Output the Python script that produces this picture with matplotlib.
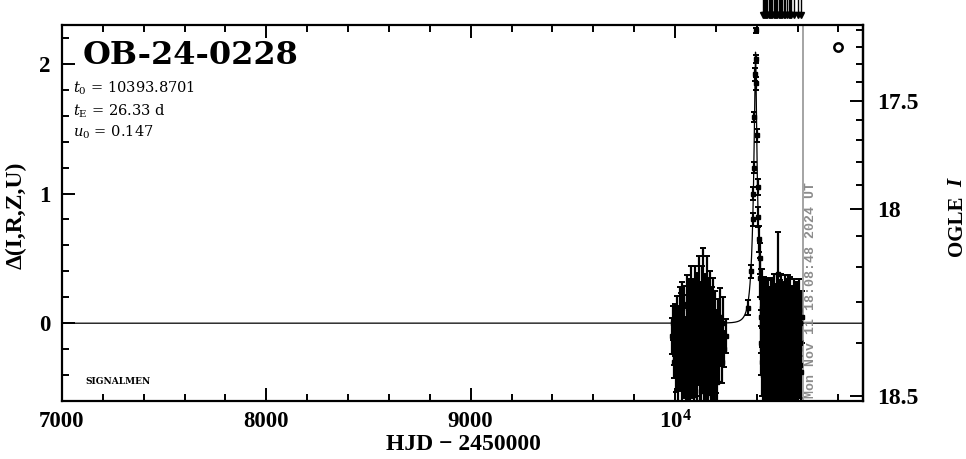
import numpy as np
import matplotlib.pyplot as plt
from matplotlib.ticker import MultipleLocator, FixedLocator, FuncFormatter

plt.rcParams['font.family'] = ['Liberation Serif', 'DejaVu Serif']
plt.rcParams['mathtext.fontset'] = 'custom'
plt.rcParams['mathtext.rm'] = 'DejaVu Serif'
plt.rcParams['mathtext.it'] = 'DejaVu Serif:italic'
plt.rcParams['mathtext.bf'] = 'Liberation Serif:bold'

# model parameters (as printed on the chart)
t0, tE, u0 = 10393.8701, 26.33, 0.147
# Delta <-> OGLE I mapping
alpha, beta = 4.47, -2.225

# 2023 season
s1_t = [9986, 9990, 9993, 9997, 10001, 10004, 10008, 10011, 10015, 10018,
        10022, 10025, 10029, 10032, 10036, 10039, 10043, 10046, 10050, 10053,
        10057, 10060, 10064, 10067, 10071, 10074, 10078, 10081, 10085, 10088,
        10092, 10095, 10099, 10102, 10106, 10109, 10113, 10116, 10120, 10123,
        10127, 10130, 10134, 10137, 10141, 10144, 10148, 10151, 10155, 10158,
        10162, 10165, 10169, 10172, 10176, 10179, 10183, 10186, 10190, 10193,
        10197, 10200, 10204, 10207, 10211, 10214, 10219, 10224, 10230, 10236,
        10242, 10248]
s1_d = [-0.10, 0.00, -0.22, -0.30, -0.05, -0.35, 0.05, -0.20, -0.42, -0.12,
        0.10, -0.28, -0.05, -0.45, 0.12, -0.18, -0.33, 0.02, -0.25, -0.50,
        0.15, -0.08, -0.38, 0.08, -0.22, -0.47, 0.20, -0.14, -0.30, 0.04,
        -0.55, -0.10, 0.18, -0.26, -0.40, 0.06, -0.18, 0.25, -0.35, -0.02,
        -0.52, 0.14, -0.20, 0.30, -0.08, -0.42, 0.10, -0.28, 0.22, -0.15,
        -0.48, 0.05, -0.25, 0.12, -0.36, -0.02, -0.55, 0.08, -0.20, -0.40,
        0.00, -0.30, -0.12, -0.45, -0.05, -0.25, 0.05, -0.15, -0.30, 0.00,
        -0.20, -0.10]
s1_e = [0.14, 0.13, 0.10, 0.12, 0.20, 0.18, 0.16, 0.22, 0.20, 0.25,
        0.18, 0.24, 0.28, 0.22, 0.20, 0.30, 0.25, 0.27, 0.30, 0.24,
        0.22, 0.30, 0.28, 0.26, 0.32, 0.26, 0.24, 0.30, 0.28, 0.30,
        0.25, 0.32, 0.26, 0.30, 0.28, 0.33, 0.30, 0.27, 0.30, 0.34,
        0.26, 0.30, 0.32, 0.28, 0.34, 0.30, 0.28, 0.33, 0.30, 0.32,
        0.28, 0.30, 0.30, 0.28, 0.26, 0.30, 0.24, 0.27, 0.28, 0.22,
        0.25, 0.24, 0.22, 0.20, 0.24, 0.20, 0.22, 0.18, 0.16, 0.20,
        0.14, 0.13]

# rise, peak and early decline 2024
pk_t = [10358, 10371, 10380, 10384, 10386, 10389, 10392, 10394, 10396,
        10398, 10401, 10404, 10407, 10410, 10414, 10418]
pk_d = [0.12, 0.40, 0.80, 1.00, 1.20, 1.59, 1.92, 2.04, 2.26,
        1.85, 1.45, 1.05, 0.82, 0.65, 0.50, 0.35]
pk_e = [0.06, 0.05, 0.05, 0.05, 0.04, 0.04, 0.05, 0.03, 0.02,
        0.05, 0.05, 0.06, 0.08, 0.10, 0.12, 0.15]

# rest of 2024 season
s2_t = [10420, 10421, 10423, 10426, 10427, 10429, 10432, 10434, 10435, 10437,
        10440, 10442, 10443, 10446, 10448, 10449, 10452, 10454, 10456, 10457,
        10460, 10462, 10463, 10466, 10468, 10470, 10471, 10474, 10476, 10477,
        10480, 10482, 10484, 10485, 10488, 10490, 10491, 10494, 10496, 10498,
        10499, 10502, 10504, 10506, 10507, 10510, 10512, 10514, 10515, 10518,
        10520, 10521, 10524, 10526, 10528, 10529, 10532, 10534, 10536, 10537,
        10540, 10542, 10543, 10546, 10548, 10550, 10551, 10554, 10556, 10558,
        10559, 10562, 10564, 10566, 10567, 10570, 10572, 10574, 10575, 10578,
        10580, 10582, 10583, 10586, 10588, 10590, 10591, 10594, 10596, 10598,
        10599, 10602, 10604, 10606, 10607, 10610, 10612, 10614, 10617, 10620]
s2_d = [0.20, -0.15, 0.05, -0.30, 0.12, -0.08, -0.40, 0.00, -0.22, 0.10,
        -0.35, -0.05, -0.50, 0.08, -0.18, -0.32, 0.02, -0.45, -0.12, 0.06,
        -0.28, -0.55, -0.02, -0.20, 0.10, -0.38, -0.10, -0.48, 0.04, -0.25,
        -0.05, -0.42, 0.12, -0.16, -0.33, 0.00, -0.52, -0.08, -0.26, 0.08,
        -0.40, -0.14, 0.38, -0.30, -0.02, -0.46, 0.06, -0.22, -0.58, -0.10,
        0.10, -0.35, -0.04, -0.50, 0.02, -0.24, -0.12, -0.44, 0.08, -0.18,
        -0.36, -0.06, -0.54, 0.04, -0.28, -0.10, -0.42, 0.10, -0.20, -0.48,
        -0.02, -0.30, 0.06, -0.38, -0.14, -0.56, 0.00, -0.24, -0.08, -0.44,
        0.08, -0.18, -0.34, -0.04, -0.50, 0.04, -0.22, -0.12, -0.40, 0.06,
        -0.28, -0.06, -0.46, 0.10, -0.20, -0.32, 0.00, -0.15, -0.38, 0.05]
s2_e = [0.22, 0.25, 0.28, 0.26, 0.30, 0.28, 0.25, 0.30, 0.32, 0.26,
        0.28, 0.30, 0.25, 0.27, 0.30, 0.28, 0.26, 0.30, 0.32, 0.28,
        0.30, 0.26, 0.30, 0.28, 0.25, 0.30, 0.33, 0.27, 0.29, 0.31,
        0.28, 0.30, 0.26, 0.32, 0.29, 0.30, 0.26, 0.31, 0.28, 0.30,
        0.29, 0.33, 0.32, 0.30, 0.28, 0.30, 0.27, 0.31, 0.26, 0.30,
        0.28, 0.30, 0.32, 0.28, 0.30, 0.29, 0.33, 0.27, 0.29, 0.31,
        0.30, 0.28, 0.26, 0.30, 0.30, 0.32, 0.28, 0.27, 0.31, 0.29,
        0.30, 0.28, 0.30, 0.32, 0.27, 0.25, 0.29, 0.30, 0.28, 0.30,
        0.26, 0.31, 0.29, 0.30, 0.27, 0.28, 0.30, 0.32, 0.28, 0.26,
        0.30, 0.28, 0.27, 0.24, 0.28, 0.26, 0.25, 0.22, 0.24, 0.20]

# markers drawn above the frame
arrow_t = [10430, 10436, 10441, 10447, 10452, 10458, 10463, 10470, 10476,
           10482, 10488, 10495, 10500, 10507, 10512, 10520, 10526, 10533,
           10540, 10548, 10556, 10563, 10570, 10584, 10600, 10617]

now_hjd = 10626.26
now_label = 'Mon Nov 11 18:08:48 2024 UT'

mag_major = [17.5, 18, 18.5]
mag_minor = [17.1, 17.2, 17.3, 17.4, 17.6, 17.7, 17.8, 17.9,
             18.1, 18.2, 18.3, 18.4]


def delta_model(t):
    u = np.sqrt(u0**2 + ((t - t0) / tE)**2)
    A = (u**2 + 2) / (u * np.sqrt(u**2 + 4))
    return 2.5 * np.log10(A)


def d2m(d):
    f = (10**(0.4 * np.asarray(d, float)) - beta) / alpha
    return 18 - 2.5 * np.log10(np.clip(f, 1e-6, None))


def m2d(m):
    x = alpha * 10**(-0.4 * (np.asarray(m, float) - 18)) + beta
    return 2.5 * np.log10(np.clip(x, 1e-6, None))


fig = plt.figure(figsize=(9.66, 4.59), dpi=100)
ax = fig.add_axes([62/966, 1 - 401/459, 801/966, 376/459])

tt = np.linspace(7000, 10920, 40000)
ax.plot(tt, delta_model(tt), color='k', lw=0.9, zorder=3)

for t, d, e in [(s1_t, s1_d, s1_e), (pk_t, pk_d, pk_e), (s2_t, s2_d, s2_e)]:
    ax.errorbar(t, d, yerr=e, fmt='s', ms=2.5, color='k', ecolor='k',
                elinewidth=1.6, capsize=2, capthick=1.4)

ax.axvline(now_hjd, color='#8c8c8c', lw=1.1)
trans = ax.get_xaxis_transform()
ax.text(now_hjd + 37, 0.008, now_label, transform=trans, rotation=90,
        ha='center', va='bottom', family='Liberation Mono', weight='bold',
        fontsize=9.5, color='#8c8c8c')

ax.vlines(arrow_t, 1 + 11/376, 1 + 26/376, transform=trans, color='k',
          lw=1.0, clip_on=False)
ax.plot(arrow_t, [1 + 9.5/376] * len(arrow_t), 'v', ms=4, color='k',
        transform=trans, clip_on=False)

ax.plot([0.9688], [0.9415], 'o', ms=6, mfc='white', mec='k', mew=1.8,
        transform=ax.transAxes)

ax.set_xlim(7000, 10920)
ax.set_ylim(-0.6, 2.3)
ax.xaxis.set_major_locator(MultipleLocator(1000))
ax.xaxis.set_minor_locator(MultipleLocator(200))
ax.yaxis.set_major_locator(MultipleLocator(1))
ax.yaxis.set_minor_locator(MultipleLocator(0.2))
ax.xaxis.set_major_formatter(FuncFormatter(
    lambda v, p: r'$\mathbf{10^4}$' if abs(v - 10000) < 1 else f'{v:.0f}'))
ax.tick_params(which='both', direction='in', top=True, right=False,
               width=1.4, labelsize=16.5)
ax.tick_params(which='major', length=9.4)
ax.tick_params(which='minor', length=5)
ax.tick_params(axis='x', pad=7)
ax.tick_params(axis='y', pad=8)
for lab in ax.get_xticklabels() + ax.get_yticklabels():
    lab.set_fontweight('bold')
for sp in ax.spines.values():
    sp.set_linewidth(1.6)

sec = ax.secondary_yaxis('right', functions=(d2m, m2d))
sec.set_yticks(mag_major)
sec.set_yticklabels(['17.5', '18', '18.5'], fontweight='bold', fontsize=17)
sec.yaxis.set_minor_locator(FixedLocator(mag_minor))
sec.tick_params(which='both', direction='in', width=1.4, pad=10)
sec.tick_params(which='major', length=9.4)
sec.tick_params(which='minor', length=5)
sec.spines['right'].set_linewidth(1.6)

fig.text(83/966, 1 - 56/459, 'OB-24-0228', family='DejaVu Serif',
         weight='bold', fontsize=23, va='center')
fig.text(73/966, 1 - 88/459, r'$t_0$ = 10393.8701', family='DejaVu Serif',
         fontsize=10.5, va='center')
fig.text(73/966, 1 - 111/459, r'$t_{\rm E}$ = 26.33 d', family='DejaVu Serif',
         fontsize=10.5, va='center')
fig.text(73/966, 1 - 132/459, r'$u_0$ = 0.147', family='DejaVu Serif',
         fontsize=10.5, va='center')
fig.text(85/966, 1 - 381/459, 'SIGNALMEN', family='DejaVu Serif',
         weight='bold', fontsize=6.5, va='center')

fig.text(463/966, 1 - 445/459, 'HJD \u2212 2450000', ha='center',
         va='center', fontsize=17, weight='bold')
fig.text(16/966, 1 - 215/459, '\u0394(I,R,Z,U)', rotation=90, ha='center',
         va='center', fontsize=17, weight='bold')
fig.text(957/966, 1 - 226/459, 'OGLE', rotation=90, ha='center',
         va='center', fontsize=15, weight='bold')
fig.text(957/966, 1 - 183/459, 'I', rotation=90, ha='center',
         va='center', fontsize=15, weight='bold', style='italic')

fig.savefig('out.png', dpi=100)
